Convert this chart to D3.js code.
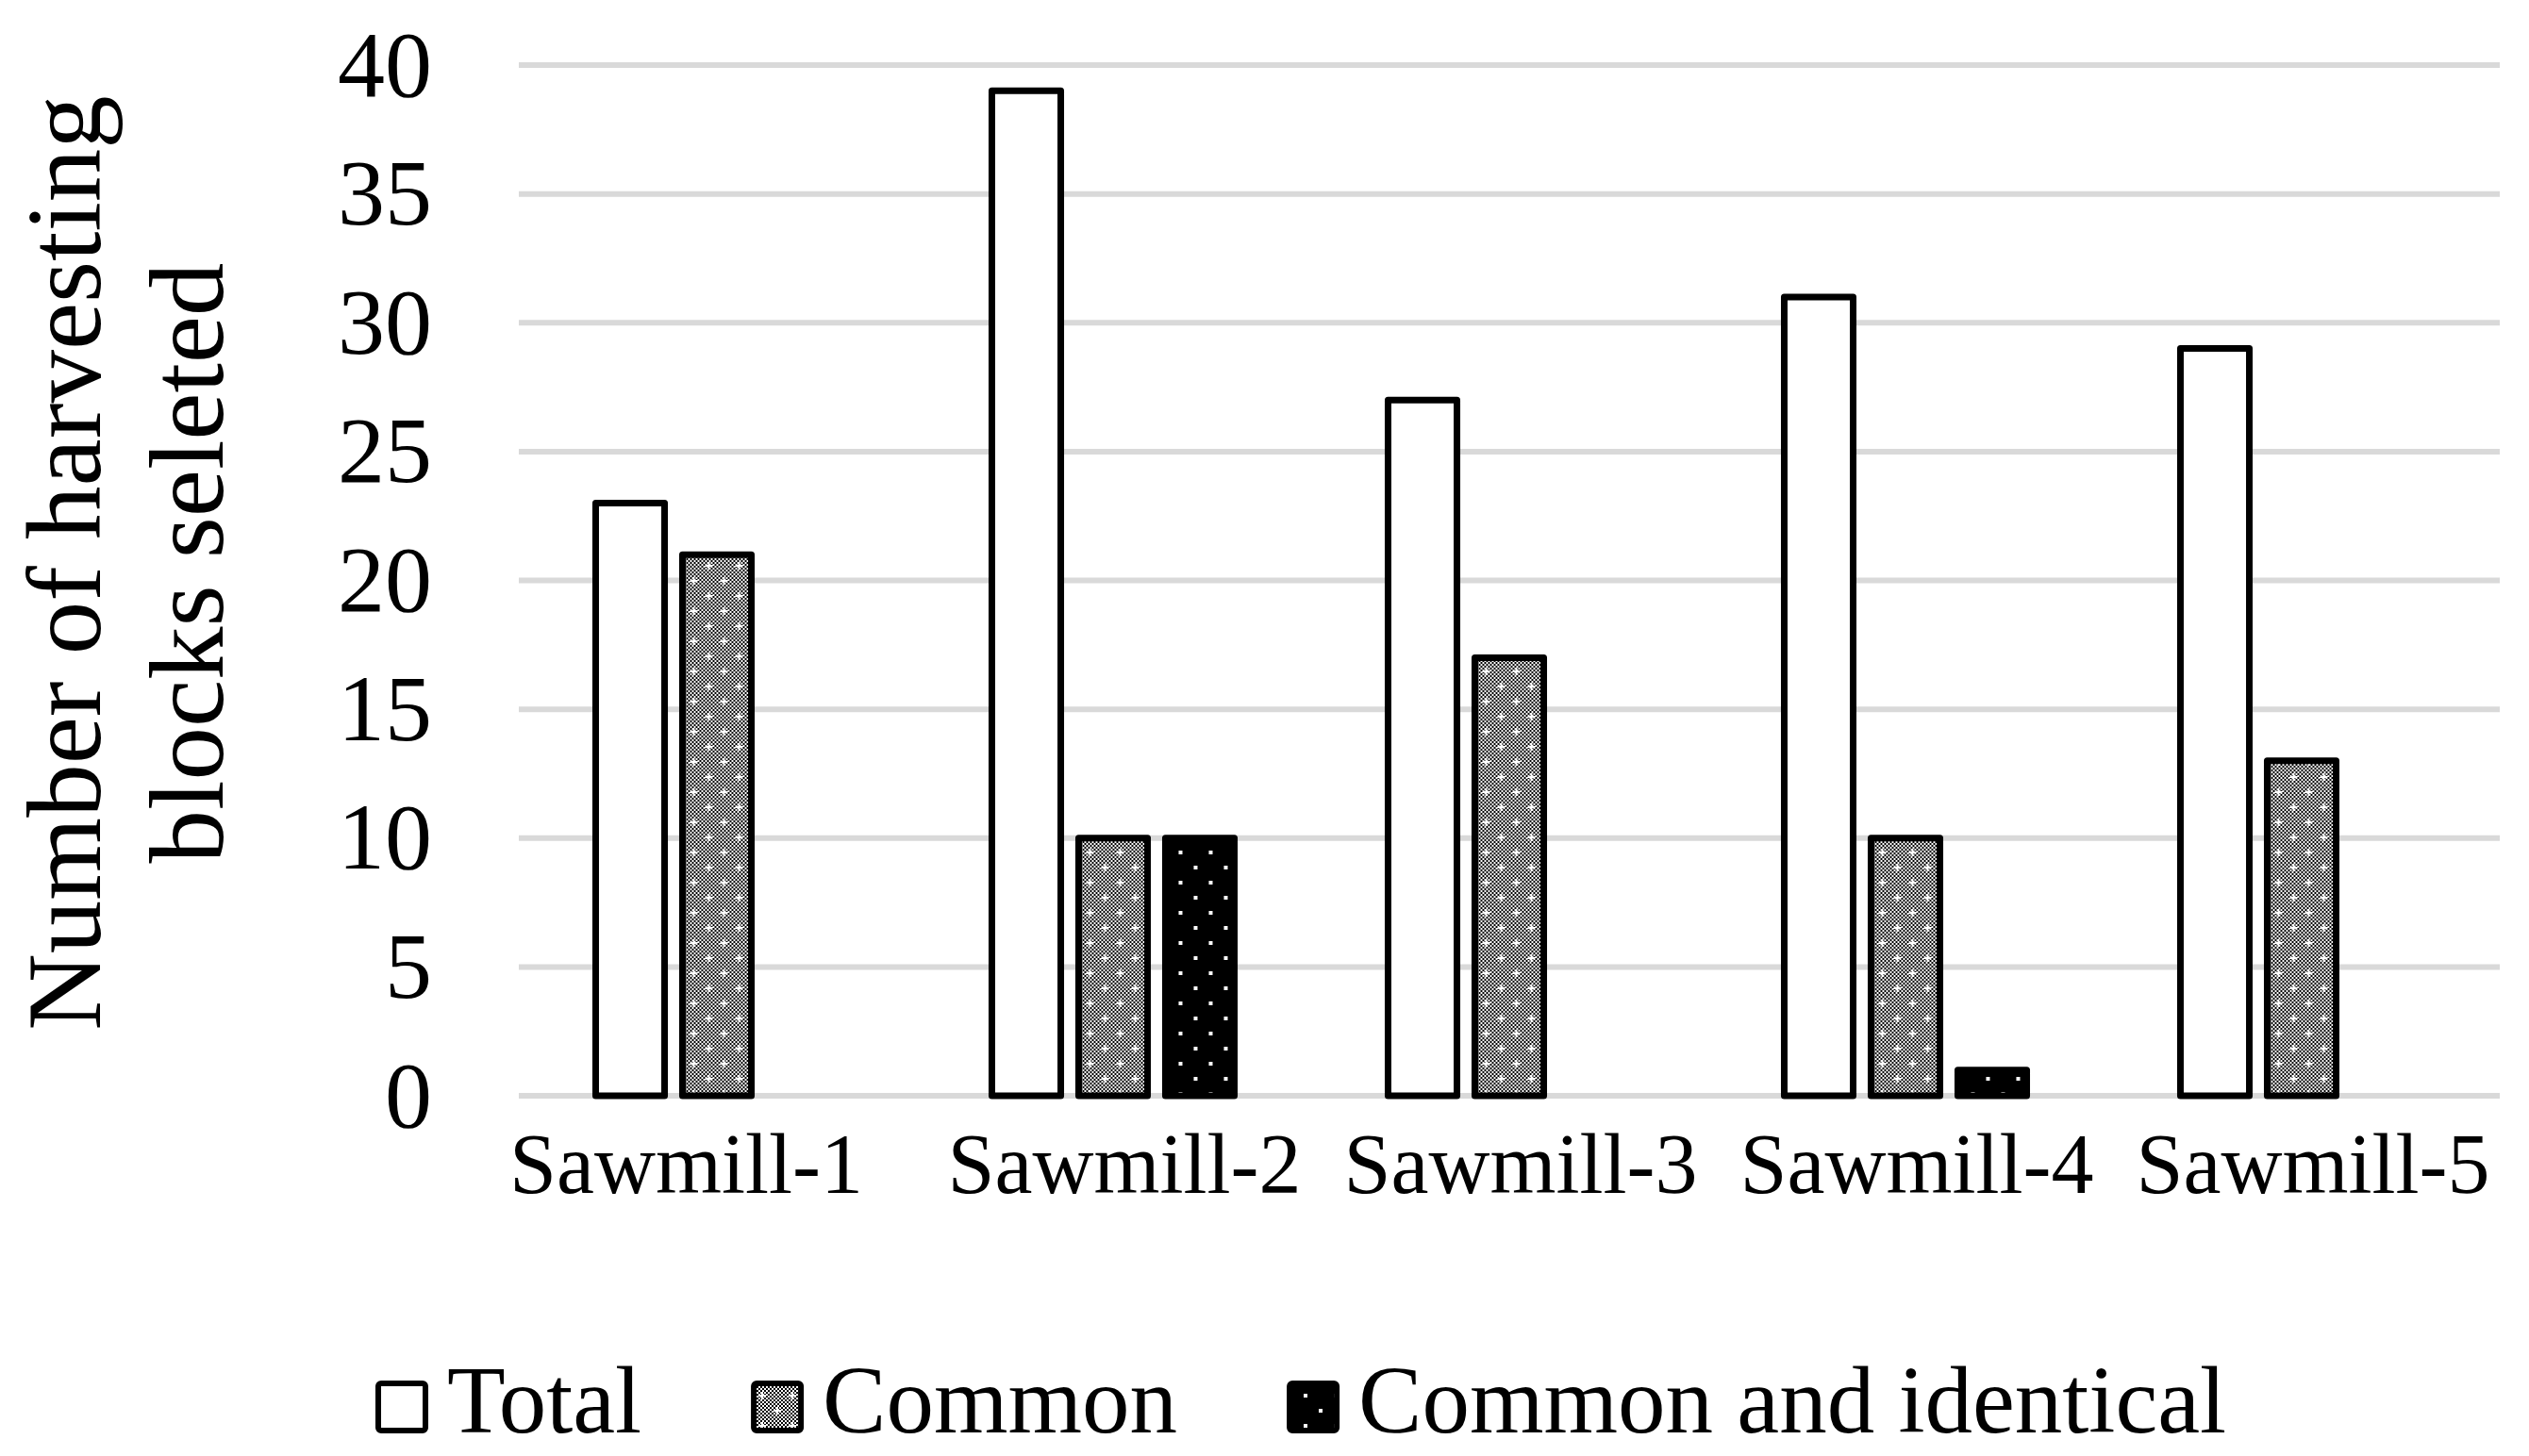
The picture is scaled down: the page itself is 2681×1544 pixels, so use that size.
<!DOCTYPE html>
<html>
<head>
<meta charset="utf-8">
<script src="https://cdn.jsdelivr.net/npm/d3@7"></script>
<style>
  body { margin: 0; background: #fff; }
  text { font-family: "Liberation Serif", "Times New Roman", serif; fill: #000; }
</style>
</head>
<body>
<div id="chart"></div>
<script>
// data
const categories = ["Sawmill-1", "Sawmill-2", "Sawmill-3", "Sawmill-4", "Sawmill-5"];
const seriesNames = ["Total", "Common", "Common and identical"];
const total = [23, 39, 27, 31, 29];
const common = [21, 10, 17, 10, 13];
const commonIdentical = [0, 10, 0, 1, 0];
const yTicks = [0, 5, 10, 15, 20, 25, 30, 35, 40];
const yTitle = ["Number of harvesting", "blocks seleted"];

const W = 2681, H = 1544;
const plot = {left: 550, right: 2650, top: 69, bottom: 1162};

const seriesValues = [total, common, commonIdentical];
const fills = ["#fff", "url(#pat-common)", "url(#pat-ci)"];

const svg = d3.select("#chart").append("svg")
    .attr("width", W).attr("height", H)
    .attr("viewBox", `0 0 ${W} ${H}`);

// patterns
const defs = svg.append("defs");
const dither = defs.append("pattern")
    .attr("id", "dither").attr("patternUnits", "userSpaceOnUse")
    .attr("width", 4).attr("height", 4);
dither.append("rect").attr("width", 4).attr("height", 4).attr("fill", "#fff");
dither.append("rect").attr("width", 2).attr("height", 2).attr("fill", "#000");
dither.append("rect").attr("x", 2).attr("y", 2).attr("width", 2).attr("height", 2).attr("fill", "#000");

const pc = defs.append("pattern")
    .attr("id", "pat-common").attr("patternUnits", "userSpaceOnUse")
    .attr("width", 32).attr("height", 32);
pc.append("rect").attr("width", 32).attr("height", 32).attr("fill", "url(#dither)");
[[8, 8], [24, 24]].forEach(([cx, cy]) => {
  pc.append("rect").attr("x", cx - 4).attr("y", cy - 1).attr("width", 8).attr("height", 2).attr("fill", "#fff");
  pc.append("rect").attr("x", cx - 1).attr("y", cy - 4).attr("width", 2).attr("height", 8).attr("fill", "#fff");
});

const pci = defs.append("pattern")
    .attr("id", "pat-ci").attr("patternUnits", "userSpaceOnUse")
    .attr("width", 32).attr("height", 32);
pci.append("rect").attr("width", 32).attr("height", 32).attr("fill", "#000");
[[8, 8], [24, 24]].forEach(([cx, cy]) => {
  pci.append("rect").attr("x", cx - 2).attr("y", cy - 2).attr("width", 4).attr("height", 4).attr("fill", "#fff");
});

// scales
const x0 = d3.scaleBand()
    .domain(categories)
    .range([plot.left, plot.right])
    .paddingInner(0.388)
    .paddingOuter(0.194);

const x1 = d3.scaleBand()
    .domain(seriesNames)
    .range([0, x0.bandwidth()])
    .paddingInner(0.206)
    .paddingOuter(0);

const y = d3.scaleLinear()
    .domain([0, 40])
    .range([plot.bottom, plot.top]);

// gridlines
svg.append("g").attr("class", "grid")
  .selectAll("line").data(yTicks).join("line")
    .attr("x1", plot.left).attr("x2", plot.right)
    .attr("y1", d => y(d)).attr("y2", d => y(d))
    .attr("stroke", "#d9d9d9").attr("stroke-width", 6);

// axes
const yAxis = svg.append("g")
    .attr("transform", `translate(${plot.left},0)`)
    .call(d3.axisLeft(y).tickValues(yTicks).tickSize(0).tickPadding(92));
yAxis.select(".domain").remove();
yAxis.selectAll("text").style("font-size", "100px").attr("fill", "#000");

const xAxis = svg.append("g")
    .attr("transform", `translate(0,${plot.bottom})`)
    .call(d3.axisBottom(x0).tickSize(0).tickPadding(39));
xAxis.select(".domain").remove();
xAxis.selectAll("text")
    .style("font-size", "90px")
    .attr("fill", "#000")
    .attr("dx", 12);
// first label sits against the plot's left edge, as in the original
xAxis.selectAll("text").filter((d, i) => i === 0)
    .attr("text-anchor", "start")
    .attr("dx", 0)
    .attr("x", plot.left - 10 - (x0(categories[0]) + x0.bandwidth() / 2));

// bars
const rows = categories.map((c, i) => ({
  cat: c,
  vals: seriesNames.map((s, j) => ({series: s, j: j, value: seriesValues[j][i]}))
}));

svg.append("g").attr("class", "bars")
  .selectAll("g").data(rows).join("g")
    .attr("transform", d => `translate(${x0(d.cat)},0)`)
  .selectAll("rect").data(d => d.vals.filter(v => v.value > 0)).join("rect")
    .attr("x", d => x1(d.series))
    .attr("y", d => y(d.value))
    .attr("width", x1.bandwidth())
    .attr("height", d => y(0) - y(d.value))
    .attr("fill", d => fills[d.j])
    .attr("stroke", "#000")
    .attr("stroke-width", 7)
    .attr("stroke-linejoin", "round");

// y title
const yt = svg.append("text")
    .attr("transform", `translate(106,597) rotate(-90)`)
    .attr("text-anchor", "middle")
    .style("font-size", "113px");
yt.selectAll("tspan").data(yTitle).join("tspan")
    .attr("x", 0)
    .attr("dy", (d, i) => i === 0 ? 0 : 130)
    .text(d => d);

// legend
const legend = svg.append("g").attr("class", "legend");
let lx = 398;
seriesNames.forEach((s, j) => {
  legend.append("rect")
      .attr("x", lx + 3).attr("y", 1467)
      .attr("width", 50).attr("height", 50)
      .attr("rx", 3)
      .attr("fill", fills[j])
      .attr("stroke", "#000").attr("stroke-width", 6);
  const t = legend.append("text")
      .attr("x", lx + 76).attr("y", 1519)
      .style("font-size", "101px")
      .text(s);
  lx += 76 + t.node().getComputedTextLength() + 116;
});
</script>
</body>
</html>
